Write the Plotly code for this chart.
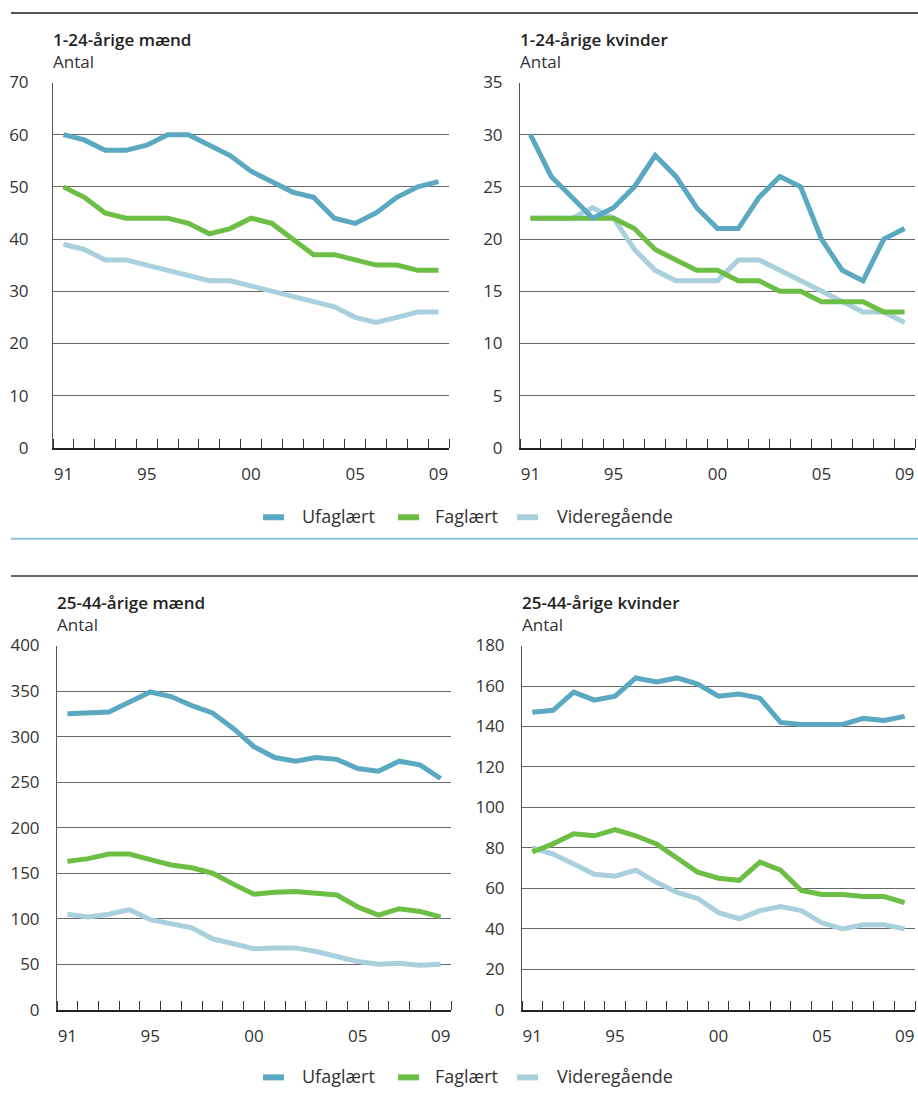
import plotly.graph_objects as go

# --------------------
# Data
# --------------------
years = list(range(1991, 2010))
label_years = [1991, 1995, 2000, 2005, 2009]
year_labels = ["91", "95", "00", "05", "09"]

names = ["Ufaglært", "Faglært", "Videregående"]
colors = ["#5aa8c1", "#6dbe45", "#a9d0dc"]

# 1-24-årige mænd
m1_ufag = [60, 59, 57, 57, 58, 60, 60, 58, 56, 53, 51, 49, 48, 44, 43, 45, 48, 50, 51]
m1_fag = [50, 48, 45, 44, 44, 44, 43, 41, 42, 44, 43, 40, 37, 37, 36, 35, 35, 34, 34]
m1_vid = [39, 38, 36, 36, 35, 34, 33, 32, 32, 31, 30, 29, 28, 27, 25, 24, 25, 26, 26]

# 1-24-årige kvinder
k1_ufag = [30, 26, 24, 22, 23, 25, 28, 26, 23, 21, 21, 24, 26, 25, 20, 17, 16, 20, 21]
k1_fag = [22, 22, 22, 22, 22, 21, 19, 18, 17, 17, 16, 16, 15, 15, 14, 14, 14, 13, 13]
k1_vid = [22, 22, 22, 23, 22, 19, 17, 16, 16, 16, 18, 18, 17, 16, 15, 14, 13, 13, 12]

# 25-44-årige mænd
m2_ufag = [325, 326, 327, 338, 349, 344, 334, 326, 309, 289, 277, 273, 277, 275, 265, 262, 273, 269, 254]
m2_fag = [163, 166, 171, 171, 165, 159, 156, 150, 138, 127, 129, 130, 128, 126, 113, 104, 111, 108, 102]
m2_vid = [105, 102, 105, 110, 99, 94, 90, 78, 72, 67, 68, 68, 64, 59, 53, 50, 51, 49, 50]

# 25-44-årige kvinder
k2_ufag = [147, 148, 157, 153, 155, 164, 162, 164, 161, 155, 156, 154, 142, 141, 141, 141, 144, 143, 145]
k2_fag = [78, 82, 87, 86, 89, 86, 82, 75, 68, 65, 64, 73, 69, 59, 57, 57, 56, 56, 53]
k2_vid = [80, 77, 72, 67, 66, 69, 63, 58, 55, 48, 45, 49, 51, 49, 43, 40, 42, 42, 40]

panels = [
    # title, series, y max, y step, x domain px, y domain px, label standoff
    ("1-24-årige mænd", [m1_ufag, m1_fag, m1_vid], 70, 10, (53, 449), (72, 445), 20),
    ("1-24-årige kvinder", [k1_ufag, k1_fag, k1_vid], 35, 5, (520, 915), (72, 445), 13),
    ("25-44-årige mænd", [m2_ufag, m2_fag, m2_vid], 400, 50, (57, 451), (647, 1019), 13),
    ("25-44-årige kvinder", [k2_ufag, k2_fag, k2_vid], 180, 20, (522, 915), (647, 1019), 13),
]

W, H = 918, 1106
FONT = "Open Sans"


def px(x):
    return x / W


def py(y):
    return 1 - y / H


fig = go.Figure()
annotations = []
shapes = []

for i, (title, series, ymax, ystep, xd, yd, standoff) in enumerate(panels):
    n = i + 1
    xa = "x" if n == 1 else f"x{n}"
    ya = "y" if n == 1 else f"y{n}"

    # light line first so the darker lines sit on top
    for j in [2, 1, 0]:
        fig.add_trace(go.Scatter(
            x=years, y=series[j], mode="lines", name=names[j],
            line=dict(color=colors[j], width=5),
            xaxis=xa, yaxis=ya, showlegend=False,
            hoverinfo="skip"
        ))

    fig.layout[f"xaxis{n if n > 1 else ''}"] = dict(
        domain=[px(xd[0]), px(xd[1])], anchor=ya,
        range=[1990.5, 2009.5], tickmode="array",
        tickvals=label_years, ticktext=year_labels, ticks="",
        ticklabelstandoff=10,
        showline=True, linecolor="#222", linewidth=1.5,
        showgrid=False, zeroline=False,
        tickfont=dict(family=FONT, size=17, color="#333"),
        minor=dict(tickmode="array", tickvals=[y - 0.5 for y in years] + [2009.5],
                   ticks="inside", ticklen=9, tickcolor="#333", tickwidth=1,
                   showgrid=False),
    )
    fig.layout[f"yaxis{n if n > 1 else ''}"] = dict(
        domain=[py(yd[1]), py(yd[0])], anchor=xa,
        range=[0, ymax], tickmode="linear", tick0=0, dtick=ystep,
        ticks="", ticklabelstandoff=standoff,
        showline=True, linecolor="#555", linewidth=1,
        showgrid=True, gridcolor="#666", gridwidth=1, zeroline=False,
        tickfont=dict(family=FONT, size=17, color="#333"),
    )

    tx = xd[0] - 2
    ty = 28 if n <= 2 else 603
    annotations.append(dict(
        text=title, x=px(tx), y=py(ty), xref="paper", yref="paper",
        xanchor="left", yanchor="middle", showarrow=False,
        font=dict(family=FONT, size=17, color="#222", weight=600)
    ))
    annotations.append(dict(
        text="Antal", x=px(tx), y=py(ty + 23), xref="paper", yref="paper",
        xanchor="left", yanchor="middle", showarrow=False,
        font=dict(family=FONT, size=17, color="#333")
    ))

# legends (one under each row of panels)
legend_keys = [(263, 300), (398, 433), (517, 555)]
for ly in (516, 1088):
    for j, (sx, tx) in enumerate(legend_keys):
        shapes.append(dict(
            type="line", xref="paper", yref="paper",
            x0=px(sx), x1=px(sx + 21), y0=py(ly), y1=py(ly),
            line=dict(color=colors[j], width=6)
        ))
        annotations.append(dict(
            text=names[j], x=px(tx), y=py(ly - 1), xref="paper", yref="paper",
            xanchor="left", yanchor="middle", showarrow=False,
            font=dict(family=FONT, size=18, color="#333")
        ))

# separator rules
shapes += [
    dict(type="line", xref="paper", yref="paper", x0=px(11), x1=1, y0=py(1), y1=py(1),
         line=dict(color="#555", width=2)),
    dict(type="line", xref="paper", yref="paper", x0=px(11), x1=1, y0=py(538), y1=py(538),
         line=dict(color="#8cc4d6", width=2)),
    dict(type="line", xref="paper", yref="paper", x0=px(11), x1=1, y0=py(576), y1=py(576),
         line=dict(color="#333", width=1.5)),
]

fig.update_layout(
    width=W, height=H,
    margin=dict(l=0, r=0, t=0, b=0, pad=0),
    paper_bgcolor="white", plot_bgcolor="white",
    showlegend=False,
    annotations=annotations, shapes=shapes,
)

fig.write_html("out.html", config={"displayModeBar": False},
               post_script="document.body.style.margin = '0px';")
